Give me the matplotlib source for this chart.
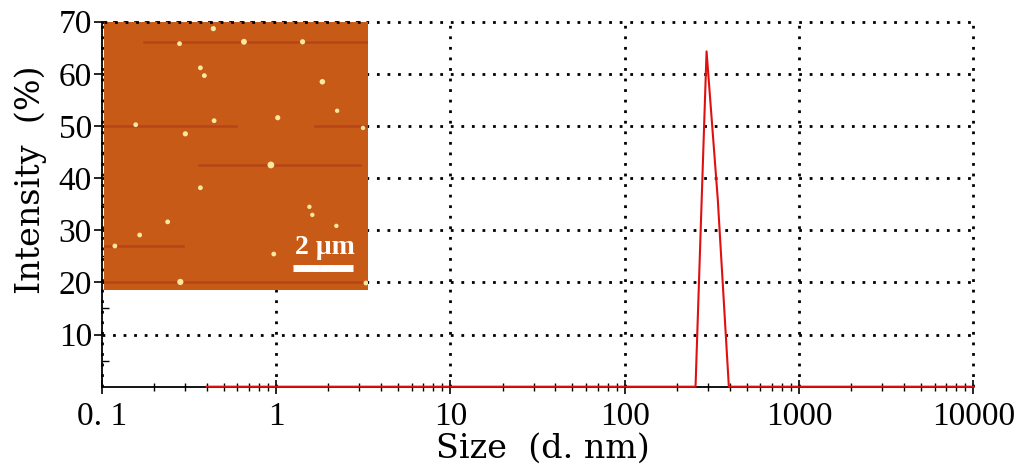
import numpy as np
import matplotlib
matplotlib.use("Agg")
import matplotlib.pyplot as plt
from matplotlib.ticker import FixedLocator, NullFormatter

# DLS intensity distribution
size_nm = [0.4, 255, 295, 342, 396, 10000]
intensity = [0, 0, 64.3, 36, 0, 0]

x_ticks = [0.1, 1, 10, 100, 1000, 10000]
x_ticklabels = ["0. 1", "1", "10", "100", "1000", "10000"]
y_ticks = [10, 20, 30, 40, 50, 60, 70]
y_minor = [5, 15, 25, 35, 45, 55, 65]

# AFM inset: bright particles (u, v from top-left, fraction of inset)
dot_u = [0.414, 0.286, 0.530, 0.752, 0.365, 0.380, 0.827, 0.883, 0.120, 0.417,
         0.658, 0.308, 0.981, 0.632, 0.365, 0.778, 0.789, 0.880, 0.241, 0.135,
         0.041, 0.643, 0.289, 0.992]
dot_v = [0.026, 0.082, 0.075, 0.075, 0.172, 0.201, 0.224, 0.332, 0.384, 0.369,
         0.358, 0.418, 0.396, 0.534, 0.619, 0.690, 0.720, 0.761, 0.746, 0.795,
         0.836, 0.866, 0.970, 0.974]
dot_s = [14, 12, 18, 14, 12, 12, 16, 10, 12, 12,
         14, 14, 10, 24, 12, 10, 10, 10, 12, 12,
         12, 12, 20, 12]
# darker horizontal scan streaks: (v, u_start, u_end)
streak_v = [0.075, 0.39, 0.39, 0.534, 0.836, 0.970]
streak_u0 = [0.15, 0.0, 0.80, 0.36, 0.0, 0.0]
streak_u1 = [1.0, 0.50, 1.0, 0.97, 0.30, 1.0]

fig = plt.figure(figsize=(10.24, 4.71), dpi=100)
ax = fig.add_axes([0.0993, 0.179, 0.8512, 0.775])

ax.plot(size_nm, intensity, color="#e01010", lw=1.5, clip_on=False, zorder=3)

ax.set_xscale("log")
ax.set_xlim(0.1, 10000)
ax.set_ylim(0, 70)

ax.xaxis.set_major_locator(FixedLocator(x_ticks))
ax.set_xticklabels(x_ticklabels)
ax.xaxis.set_minor_locator(FixedLocator(
    [m * 10.0 ** e for e in range(-1, 4) for m in range(2, 10)]))
ax.xaxis.set_minor_formatter(NullFormatter())
ax.set_yticks(y_ticks)
ax.yaxis.set_minor_locator(FixedLocator(y_minor))

for lab in ax.get_xticklabels() + ax.get_yticklabels():
    lab.set_fontfamily("Liberation Serif")
    lab.set_fontsize(24)

ax.tick_params(axis="x", which="major", direction="inout", length=10, width=1.2, pad=6)
ax.tick_params(axis="x", which="minor", direction="inout", length=6, width=1.0)
ax.tick_params(axis="y", which="major", direction="out", length=6, width=1.2, pad=1)
ax.tick_params(axis="y", which="minor", direction="in", length=5, width=1.0)

ax.grid(which="major", color="black", linestyle=(0, (1, 2.8)), linewidth=2.0)
for line in ax.get_xgridlines() + ax.get_ygridlines():
    line.set_clip_on(False)

for side in ["top", "right"]:
    ax.spines[side].set_visible(False)
for side in ["left", "bottom"]:
    ax.spines[side].set_linewidth(1.3)

ax.set_xlabel("Size  (d. nm)", family="DejaVu Serif", fontsize=24)
ax.set_ylabel("Intensity  (%)", family="DejaVu Serif", fontsize=24)
ax.xaxis.set_label_coords(0.506, -0.127)
ax.yaxis.set_label_coords(-0.063, 0.566)

# AFM image inset
ins = fig.add_axes([0.1016, 0.3843, 0.2578, 0.5697])
ins.set_facecolor("#c65a16")
ins.set_xlim(0, 1)
ins.set_ylim(0, 1)
for v, u0, u1 in zip(streak_v, streak_u0, streak_u1):
    ins.plot([u0, u1], [1 - v, 1 - v], color="#a8301a", lw=1.8, alpha=0.5)
ins.scatter(dot_u, [1 - v for v in dot_v], s=dot_s, color="#f8e8a0",
            edgecolors="none", zorder=3)
ins.plot([0.716, 0.943], [0.082, 0.082], color="white", lw=5, solid_capstyle="butt")
ins.text(0.837, 0.157, "2 μm", color="white", fontsize=20, fontweight="bold",
         family="Liberation Serif", ha="center", va="center")
ins.axhline(1.0, color="black", linestyle=(0, (1, 2.8)), linewidth=2.0, clip_on=False)
ins.set_xticks([])
ins.set_yticks([])
for sp in ins.spines.values():
    sp.set_visible(False)

fig.savefig("out.png", dpi=100)
